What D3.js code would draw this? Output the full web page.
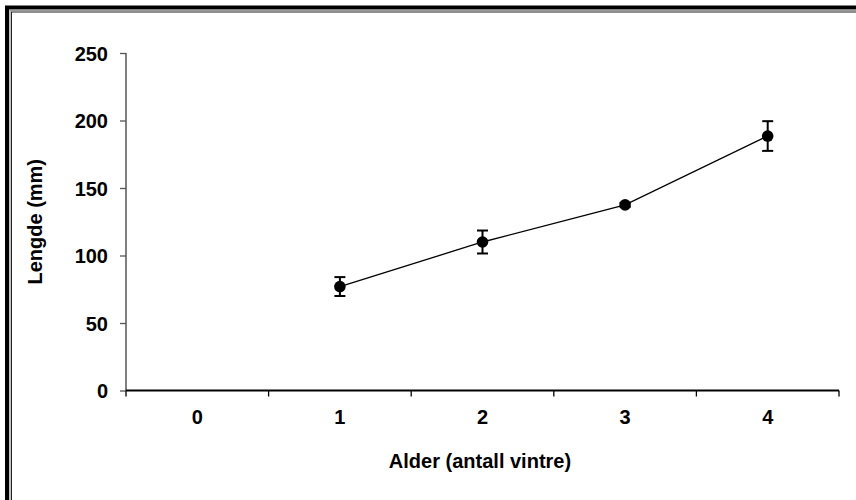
<!DOCTYPE html>
<html>
<head>
<meta charset="utf-8">
<script src="https://cdn.jsdelivr.net/npm/d3@7"></script>
<style>
  html, body { margin: 0; padding: 0; background: #fff; }
  svg { display: block; }
  text { font-family: "Liberation Sans", Arial, sans-serif; font-weight: bold; fill: #000; }
</style>
</head>
<body>
<svg id="chart" width="856" height="500"></svg>
<script>
// Mean length per age class (winters), with error bar half-widths
const ages = [0, 1, 2, 3, 4];
const lengthMean = [null, 77, 110, 137.5, 188.5];
const lengthErr = [null, 7, 8.5, 1.5, 11];
const yTicks = [0, 50, 100, 150, 200, 250];

const svg = d3.select("#chart");
const W = 856, H = 500;
const FS = "20px";

// Double frame around the chart (right/bottom run off the canvas)
svg.append("rect").attr("x", 7).attr("y", 7.5).attr("width", W + 20).attr("height", H + 20)
  .attr("fill", "none").attr("stroke", "#000").attr("stroke-width", 4);
svg.append("rect").attr("x", 10).attr("y", 10.5).attr("width", W + 20).attr("height", H + 20)
  .attr("fill", "none").attr("stroke", "#9a9a9a").attr("stroke-width", 1.2);
svg.append("rect").attr("x", 11.5).attr("y", 12).attr("width", W + 20).attr("height", H + 20)
  .attr("fill", "none").attr("stroke", "#222").attr("stroke-width", 1);

const plot = { left: 126, right: 839, top: 53, bottom: 390.5 };

const x = d3.scaleBand().domain(ages).range([plot.left, plot.right]);
const y = d3.scaleLinear().domain([0, 250]).range([plot.bottom, plot.top]);

// Y axis
const yAxis = svg.append("g").attr("transform", `translate(${plot.left},0)`)
  .call(d3.axisLeft(y).tickValues(yTicks).tickSize(6).tickPadding(12));
yAxis.select(".domain").attr("stroke", "#555").attr("stroke-width", 1.5)
  .attr("d", `M0,${plot.top}V${plot.bottom}`);
yAxis.selectAll(".tick line").attr("stroke", "#555").attr("stroke-width", 1.3);
yAxis.selectAll(".tick text").style("font-size", FS).attr("dy", "0.36em");

// X axis: ticks at the category boundaries, labels centred in each band
const xg = svg.append("g").attr("transform", `translate(0,${plot.bottom})`);
xg.append("line").attr("x1", plot.left).attr("x2", plot.right)
  .attr("stroke", "#000").attr("stroke-width", 2);
const bounds = ages.map(a => x(a)).concat([x(ages[ages.length - 1]) + x.bandwidth()]);
xg.selectAll("line.tk").data(bounds).enter().append("line").attr("class", "tk")
  .attr("x1", d => d).attr("x2", d => d).attr("y1", 0).attr("y2", 6)
  .attr("stroke", "#000").attr("stroke-width", 1.3);
xg.selectAll("text").data(ages).enter().append("text")
  .attr("x", d => x(d) + x.bandwidth() / 2).attr("y", 33.5)
  .attr("text-anchor", "middle").style("font-size", FS).text(d => d);

// Axis titles
svg.append("text").attr("x", 480).attr("y", 467.5)
  .attr("text-anchor", "middle").style("font-size", FS).text("Alder (antall vintre)");
svg.append("text").attr("transform", `translate(42,${(plot.top + plot.bottom) / 2}) rotate(-90)`)
  .attr("text-anchor", "middle").style("font-size", FS).text("Lengde (mm)");

// Data
const pts = ages.map((a, i) => ({ a, m: lengthMean[i], e: lengthErr[i] })).filter(d => d.m !== null);
const cx = d => x(d.a) + x.bandwidth() / 2;

svg.append("path").datum(pts)
  .attr("d", d3.line().x(cx).y(d => y(d.m)))
  .attr("fill", "none").attr("stroke", "#000").attr("stroke-width", 1.3);

const eb = svg.append("g").attr("stroke", "#000").attr("stroke-width", 2);
pts.forEach(d => {
  const c = cx(d);
  eb.append("line").attr("x1", c).attr("x2", c).attr("y1", y(d.m + d.e)).attr("y2", y(d.m - d.e));
  [d.m + d.e, d.m - d.e].forEach(v => {
    eb.append("line").attr("x1", c - 5.5).attr("x2", c + 5.5).attr("y1", y(v)).attr("y2", y(v));
  });
});

svg.selectAll("circle.pt").data(pts).enter().append("circle").attr("class", "pt")
  .attr("cx", cx).attr("cy", d => y(d.m)).attr("r", 5.8).attr("fill", "#000");
</script>
</body>
</html>
